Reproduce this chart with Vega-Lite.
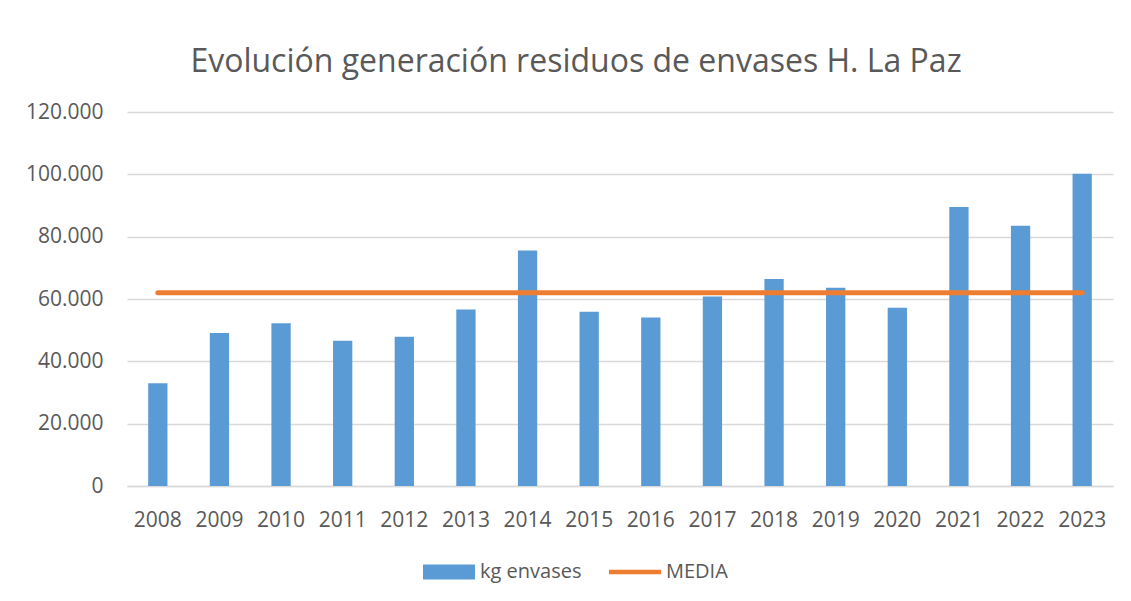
{
  "$schema": "https://vega.github.io/schema/vega-lite/v6.json",
  "autosize": {"type": "none"},
  "width": 986,
  "height": 374,
  "padding": {"left": 127, "top": 112, "right": 18, "bottom": 115},
  "background": "white",
  "title": {
    "text": "Evolución generación residuos de envases H. La Paz",
    "font": "Open Sans",
    "fontSize": 32,
    "fontWeight": "normal",
    "color": "#595959",
    "anchor": "middle",
    "frame": "group",
    "dx": -44,
    "offset": 22
  },
  "config": {
    "locale": {"number": {"decimal": ",", "thousands": ".", "grouping": [3], "currency": ["", " €"]}},
    "view": {"stroke": null},
    "axis": {
      "labelFont": "Open Sans",
      "labelFontSize": 21,
      "labelColor": "#595959",
      "ticks": false,
      "title": null,
      "gridColor": "#D9D9D9",
      "gridWidth": 1.3,
      "domainColor": "#D9D9D9",
      "domainWidth": 1.3
    }
  },
  "data": {
    "values": [
      {"anio": "2008", "kg": 33000, "media": 62000},
      {"anio": "2009", "kg": 49100, "media": 62000},
      {"anio": "2010", "kg": 52200, "media": 62000},
      {"anio": "2011", "kg": 46600, "media": 62000},
      {"anio": "2012", "kg": 47900, "media": 62000},
      {"anio": "2013", "kg": 56600, "media": 62000},
      {"anio": "2014", "kg": 75600, "media": 62000},
      {"anio": "2015", "kg": 55900, "media": 62000},
      {"anio": "2016", "kg": 54100, "media": 62000},
      {"anio": "2017", "kg": 60800, "media": 62000},
      {"anio": "2018", "kg": 66400, "media": 62000},
      {"anio": "2019", "kg": 63600, "media": 62000},
      {"anio": "2020", "kg": 57200, "media": 62000},
      {"anio": "2021", "kg": 89500, "media": 62000},
      {"anio": "2022", "kg": 83500, "media": 62000},
      {"anio": "2023", "kg": 100200, "media": 62000}
    ]
  },
  "encoding": {
    "x": {
      "field": "anio",
      "type": "ordinal",
      "scale": {"paddingInner": 0, "paddingOuter": 0},
      "axis": {"labelAngle": 0, "labelPadding": 23, "grid": false, "domain": true}
    }
  },
  "layer": [
    {
      "mark": {"type": "bar", "width": {"band": 0.313}},
      "encoding": {
        "y": {
          "field": "kg",
          "type": "quantitative",
          "scale": {"domain": [0, 120000], "nice": false},
          "axis": {"values": [0, 20000, 40000, 60000, 80000, 100000, 120000], "format": ",.0f", "labelPadding": 24, "domain": false, "grid": true}
        },
        "color": {
          "datum": "kg envases",
          "type": "nominal",
          "scale": {"domain": ["kg envases", "MEDIA"], "range": ["#5B9BD5", "#ED7D31"]},
          "legend": {
            "title": null,
            "orient": "none",
            "direction": "horizontal",
            "legendX": 296,
            "legendY": 434,
            "padding": 0,
            "symbolSize": 2704,
            "labelFont": "Open Sans",
            "labelFontSize": 20,
            "labelColor": "#595959",
            "labelOffset": 5,
            "columnPadding": 27,
            "encode": {
              "symbols": {
                "update": {
                  "shape": {"signal": "datum.value === 'MEDIA' ? 'M-1,-0.09L1,-0.09L1,0.09L-1,0.09Z' : 'M-1,-0.29L1,-0.29L1,0.29L-1,0.29Z'"},
                  "fill": {"signal": "datum.value === 'MEDIA' ? '#ED7D31' : '#5B9BD5'"},
                  "stroke": {"value": "transparent"},
                  "strokeWidth": {"value": 0},
                  "opacity": {"value": 1}
                }
              }
            }
          }
        }
      }
    },
    {
      "mark": {"type": "line", "strokeWidth": 5, "strokeCap": "round"},
      "encoding": {
        "y": {"field": "media", "type": "quantitative"},
        "color": {"datum": "MEDIA", "type": "nominal"}
      }
    }
  ]
}
